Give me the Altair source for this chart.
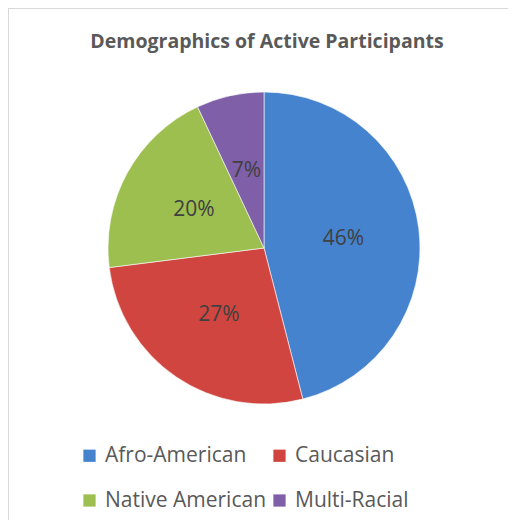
import altair as alt
import pandas as pd

categories = ["Afro-American", "Caucasian", "Native American", "Multi-Racial"]
values = [46, 27, 20, 7]
order = [1, 2, 3, 4]
colors = ["#4683cf", "#d0453f", "#9cbf4f", "#7f5fa8"]

df = pd.DataFrame({"category": categories, "value": values, "order": order})
df["label"] = df["value"].astype(str) + "%"

W, H = 500, 512
CX, CY = 256, 240

color = alt.Color(
    "category:N",
    scale=alt.Scale(domain=categories, range=colors),
    legend=alt.Legend(
        title=None, orient="none", legendX=71, legendY=437, columns=2,
        direction="horizontal",
        symbolType="square", symbolSize=150, symbolStrokeWidth=0,
        labelFontSize=21, labelFont="Open Sans", labelColor="#595959",
        rowPadding=23, columnPadding=2, labelLimit=300, symbolOffset=0,
        labelOffset=5,
    ),
    sort=categories,
)

base = alt.Chart(df).encode(
    theta=alt.Theta("value:Q", stack=True),
    order=alt.Order("order:Q"),
)

pie = base.mark_arc(outerRadius=156, stroke="#ffffff", strokeWidth=0.6).encode(
    color=color, x=alt.value(CX), y=alt.value(CY)
)

labels = base.mark_text(radius=80, fontSize=21, font="Open Sans", color="#404040").encode(
    text="label:N", x=alt.value(CX), y=alt.value(CY + 1)
)

title = alt.Chart(pd.DataFrame({"t": ["Demographics of Active Participants"]})).mark_text(
    fontSize=19.5, font="Open Sans", fontWeight="bold", color="#595959"
).encode(text="t:N", x=alt.value(259), y=alt.value(34))

border_left = alt.Chart(pd.DataFrame({"a": [0]})).mark_rule(color="#d9d9d9", strokeWidth=2).encode(
    x=alt.value(0), y=alt.value(0), y2=alt.value(H)
)
border_top = alt.Chart(pd.DataFrame({"a": [0]})).mark_rule(color="#d9d9d9", strokeWidth=2).encode(
    x=alt.value(0), x2=alt.value(W), y=alt.value(0)
)

chart = alt.layer(border_left, border_top, pie, labels, title).properties(
    width=W, height=H, padding=0, autosize=alt.AutoSizeParams(type="none")
).configure_view(stroke=None).configure(background="#ffffff")

chart.save("out.html", embed_options={"renderer": "svg", "actions": False})
